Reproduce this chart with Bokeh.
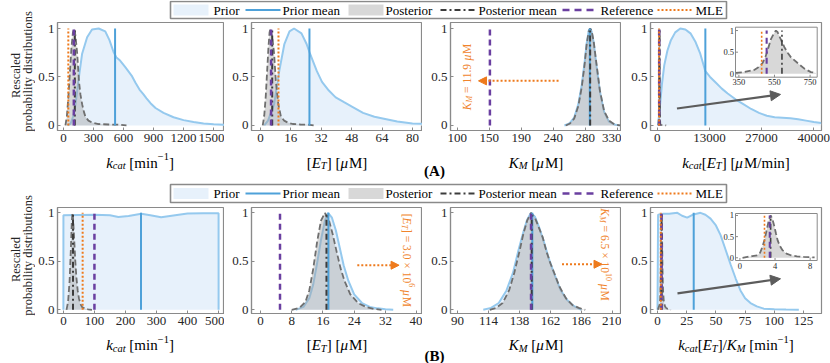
import math
from bokeh.plotting import figure
from bokeh.layouts import column, row
from bokeh.models import Range1d, FixedTicker, Label, Arrow, NormalHead
from bokeh.core.properties import value
from bokeh.embed import file_html
from bokeh.resources import INLINE

FONT = "Liberation Serif"

# ---------------- data ----------------
LEGEND_LABELS = ["Prior", "Prior mean", "Posterior", "Posterior mean", "Reference", "MLE"]
Y_LABEL_LINES = ["Rescaled", "probability distributions"]
Y_TICKS = [0, 0.5, 1]
Y_TICK_LABELS = ["0", "0.5", "1"]
INSET_Y_TICKS = [0, 0.5, 1]

# Row A, panel 1: k_cat
A1_TICKS = [0, 300, 600, 900, 1200, 1500]
A1_PRIOR_X = [40, 72, 100, 121, 155, 187, 237, 286, 352, 418, 460, 500, 530, 566, 620, 681,
              720, 760, 800, 830, 870, 920, 1000, 1100, 1200, 1300, 1400, 1500, 1620]
A1_PRIOR_Y = [0.0, 0.02, 0.1, 0.22, 0.5, 0.74, 0.91, 0.99, 1.0, 0.97, 0.88, 0.76, 0.7, 0.67, 0.6, 0.515,
              0.44, 0.37, 0.32, 0.28, 0.23, 0.18, 0.13, 0.085, 0.055, 0.035, 0.02, 0.012, 0.008]
A1_POST_X = [20, 35, 50, 65, 80, 95, 108, 120, 138, 155, 170, 187, 205, 220, 250, 286, 350, 450, 550, 630]
A1_POST_Y = [0.0, 0.1, 0.3, 0.55, 0.8, 0.96, 1.0, 0.93, 0.74, 0.46, 0.32, 0.22, 0.14, 0.09, 0.05,
             0.03, 0.015, 0.01, 0.008, 0.0]
A1_PRIOR_MEAN, A1_POST_MEAN, A1_REF, A1_MLE = 516, 114, 104, 49

# Row A, panel 2: [E_T]
A2_TICKS = [0, 16, 32, 48, 64, 80]
A2_PRIOR_X = [2, 4, 7.2, 9.9, 12.6, 15.3, 17.7, 21.6, 24.3, 26.1, 29.7, 32.4, 36, 39.6, 44, 48.6,
              54, 60, 65, 72, 80, 87]
A2_PRIOR_Y = [0.0, 0.05, 0.22, 0.56, 0.84, 0.97, 1.0, 0.95, 0.84, 0.74, 0.56, 0.45, 0.36, 0.29, 0.24,
              0.19, 0.13, 0.09, 0.07, 0.04, 0.02, 0.015]
A2_POST_X = [1.2, 2.0, 2.8, 3.5, 4.2, 4.8, 5.3, 6.0, 6.6, 7.2, 8.1, 9.4, 10.8, 12.5, 14.4, 17, 21, 25, 28]
A2_POST_Y = [0.0, 0.1, 0.3, 0.55, 0.8, 0.96, 1.0, 0.93, 0.85, 0.74, 0.46, 0.22, 0.09, 0.05, 0.03,
             0.015, 0.01, 0.008, 0.0]
A2_PRIOR_MEAN, A2_POST_MEAN, A2_REF, A2_MLE = 25.8, 6.2, 5.6, 9.5

# Row A, panel 3: K_M
A3_TICKS = [100, 146, 192, 238, 284, 330]
A3_TICK_LABELS = ["100", "150", "190", "240", "280", "330"]
A3_PRIOR_X = [254, 261, 268, 274, 279, 283, 286, 289, 291, 293, 296, 300, 305, 311, 318, 326, 333]
A3_PRIOR_Y = [0.0, 0.02, 0.08, 0.22, 0.42, 0.65, 0.85, 0.98, 1.0, 0.97, 0.86, 0.62, 0.35, 0.14, 0.04, 0.01, 0.0]
A3_POST_X = [256, 262, 268, 274, 279, 283, 286, 289, 291, 293, 296, 300, 305, 311, 318, 326, 334]
A3_POST_Y = [0.0, 0.02, 0.07, 0.2, 0.4, 0.63, 0.84, 0.97, 1.0, 0.98, 0.87, 0.64, 0.36, 0.15, 0.05, 0.01, 0.0]
A3_PRIOR_MEAN, A3_POST_MEAN, A3_REF = 290.5, 291, 147
A3_ARROW = [245.6, 0.46, 130.6, 0.46]
A3_NOTE_POS = [109, 0.5]

# Row A, panel 4: k_cat [E_T]
A4_TICKS = [0, 13333.33, 26666.67, 40000]
A4_TICK_LABELS = ["0", "13000", "27000", "40000"]
A4_PRIOR_X = [200, 600, 1200, 1800, 2600, 3500, 4600, 5900, 7200, 8500, 9800, 11000, 12300, 13500,
              15000, 16500, 18000, 20000, 22000, 24000, 26000, 28000, 30000, 32000, 34000, 36000,
              38000, 40000, 41900]
A4_PRIOR_Y = [0.0, 0.15, 0.42, 0.62, 0.77, 0.88, 0.96, 1.0, 0.99, 0.95, 0.86, 0.74, 0.56, 0.5,
              0.44, 0.38, 0.33, 0.27, 0.22, 0.17, 0.13, 0.1, 0.085, 0.08, 0.075, 0.065,
              0.05, 0.035, 0.025]
A4_POST_X = [280, 333, 380, 436, 460, 483, 500, 511, 530, 545, 558, 568, 585, 605, 625, 643, 680,
             718, 755, 783, 850, 1000, 1400, 1900, 2300]
A4_POST_Y = [0.0, 0.02, 0.04, 0.09, 0.15, 0.25, 0.4, 0.54, 0.8, 0.92, 1.0, 0.96, 0.8, 0.62, 0.48,
             0.38, 0.25, 0.12, 0.04, 0.02, 0.01, 0.005, 0.003, 0.002, 0.0]
A4_PRIOR_MEAN, A4_POST_MEAN, A4_REF, A4_MLE = 12300, 592, 506, 478
A4_ARROW = [5050, 0.175, 31500, 0.32]
A4_INSET_TICKS = [350, 550, 750]
A4_INSET_RANGE = [331, 790, -0.078, 1.077]

# Row B, panel 1: k_cat
B1_TICKS = [0, 100, 200, 300, 400, 500]
B1_PRIOR_X = [0, 0.1, 50, 100, 150, 177, 210, 251, 280, 315, 360, 400, 450, 499.9, 500]
B1_PRIOR_Y = [0.0, 0.975, 0.978, 0.98, 0.975, 0.958, 0.968, 0.99, 0.975, 0.955, 0.975, 0.992,
              0.995, 0.995, 0.0]
B1_POST_X = [10, 15, 20, 24, 27, 29, 31, 34, 38, 42, 46, 50, 55, 60, 70, 80, 92]
B1_POST_Y = [0.0, 0.08, 0.3, 0.62, 0.9, 1.0, 0.95, 0.78, 0.52, 0.33, 0.2, 0.12, 0.06, 0.03, 0.01, 0.005, 0.0]
B1_PRIOR_MEAN, B1_POST_MEAN, B1_REF, B1_MLE = 250, 31, 100, 62

# Row B, panel 2: [E_T]
B2_TICKS = [0, 8, 16, 24, 32, 40]
B2_PRIOR_X = [9, 11, 12.5, 13.5, 14.5, 15.5, 16.5, 17.3, 18.3, 19.3, 20.3, 21.3, 22.5, 24, 26, 28,
              30, 32, 34]
B2_PRIOR_Y = [0.0, 0.03, 0.12, 0.26, 0.48, 0.72, 0.92, 1.0, 0.95, 0.82, 0.64, 0.46, 0.3, 0.16, 0.07,
              0.03, 0.015, 0.005, 0.0]
B2_POST_X = [8, 10, 11.5, 12.5, 13.5, 14.5, 15.5, 16.5, 17.5, 18.5, 19.5, 20.5, 21.5, 23, 25, 27, 29, 31]
B2_POST_Y = [0.0, 0.02, 0.08, 0.2, 0.42, 0.7, 0.92, 1.0, 0.93, 0.78, 0.6, 0.43, 0.3, 0.16, 0.07,
             0.03, 0.01, 0.0]
B2_PRIOR_MEAN, B2_POST_MEAN, B2_REF = 17.4, 16.9, 5.0
B2_ARROW = [24.8, 0.46, 35.5, 0.46]
B2_NOTE_POS = [38.6, 0.51]

# Row B, panel 3: K_M
B3_TICKS = [90, 114, 138, 162, 186, 210]
B3_PRIOR_X = [110, 116, 122, 128, 133, 137, 141, 144, 147, 150, 153, 157, 161, 165, 170, 175, 180, 186]
B3_PRIOR_Y = [0.0, 0.02, 0.07, 0.2, 0.38, 0.6, 0.8, 0.93, 1.0, 0.96, 0.86, 0.7, 0.52, 0.37, 0.2,
              0.1, 0.04, 0.0]
B3_POST_X = [115, 120, 125, 130, 134, 138, 141, 144, 147, 150, 153, 156, 159, 162, 165, 169, 174,
             179, 184, 189]
B3_POST_Y = [0.0, 0.02, 0.07, 0.2, 0.38, 0.6, 0.78, 0.92, 1.0, 0.95, 0.85, 0.75, 0.6, 0.48, 0.38,
             0.24, 0.12, 0.05, 0.02, 0.0]
B3_PRIOR_MEAN, B3_POST_MEAN, B3_REF = 148, 147.5, 147
B3_ARROW = [171, 0.47, 202, 0.47]
B3_NOTE_POS = [207.3, 0.57]

# Row B, panel 4: k_cat [E_T] / K_M
B4_TICKS = [0, 25, 50, 75, 100, 125]
B4_PRIOR_X = [0, 0.5, 5, 10, 17, 21, 25.4, 30, 36.8, 41, 45.4, 50, 54, 58, 62.5, 67, 71, 75, 79.6,
              85, 91, 100, 110, 121]
B4_PRIOR_Y = [0.0, 0.98, 0.99, 0.99, 1.0, 0.97, 0.95, 0.98, 1.0, 0.98, 0.94, 0.87, 0.77, 0.63,
              0.47, 0.32, 0.2, 0.12, 0.07, 0.035, 0.012, 0.005, 0.002, 0.0]
B4_POST_X = [0.3, 0.85, 1.4, 2.0, 2.3, 2.55, 2.8, 2.95, 3.15, 3.3, 3.5, 3.7, 3.9, 4.1, 4.3, 4.55,
             4.85, 5.3, 5.8, 6.5, 7.3, 8.5, 10, 11.5]
B4_POST_Y = [0.0, 0.02, 0.04, 0.06, 0.12, 0.25, 0.42, 0.56, 0.75, 0.9, 1.0, 0.92, 0.76, 0.58, 0.41,
             0.28, 0.18, 0.1, 0.06, 0.035, 0.02, 0.01, 0.005, 0.0]
B4_PRIOR_MEAN, B4_POST_MEAN, B4_REF, B4_MLE = 31, 3.5, 3.4, 2.8
B4_ARROW = [17.1, 0.17, 105.3, 0.32]
B4_INSET_TICKS = [0, 4, 8]
B4_INSET_RANGE = [-0.5, 8.8, -0.064, 1.047]

# ---------------- style ----------------
PRIOR_FILL = "#e7f1fb"
PRIOR_LINE = "#95c9ee"
PRIOR_MEAN_C = "#4ea1d9"
POST_FILL = "#a3a3a3"
POST_ALPHA = 0.42
POST_LINE = "#6f6f6f"
POST_MEAN_C = "#3c3c3c"
REF_C = "#6a3fa0"
MLE_C = "#ee7a1c"
NOTE_C = "#f0842c"
AXIS_C = "#8a8a8a"
TICK_TXT = "#262626"

REG_W = {' ': 250, '(': 333, ')': 333, '[': 333, ']': 333, '/': 278, '=': 564, '\u00d7': 564,
         '.': 250, '\u2212': 564, '\u03bc': 576, 'a': 444, 'b': 500, 'c': 444, 'd': 500, 'e': 444,
         'i': 278, 'l': 278, 'm': 778, 'n': 500, 'o': 500, 'p': 500, 'r': 333, 's': 389, 't': 278,
         'u': 500, 'y': 500, 'A': 722, 'B': 667, 'E': 611, 'K': 722, 'M': 889, 'T': 611}
ITA_W = {'k': 444, 'c': 444, 'a': 500, 't': 278, 'E': 611, 'T': 556, 'K': 667, 'M': 833, '\u03bc': 576}


def text_width(s, size, italic):
    tbl = ITA_W if italic else REG_W
    return sum(tbl.get(ch, REG_W.get(ch, 500)) for ch in s) * size / 1000.0


def split_lead(t, size, italic):
    """SVG drops leading blanks: return stripped text and the blank advance to skip."""
    s = t.lstrip(' ')
    return s, text_width(' ' * (len(t) - len(s)), size, italic)


def rich_label(p, x, y, segs, angle=0.0, dx=0.0, color="black"):
    """Rotated multi-style annotation (inside a plot frame)."""
    widths = [text_width(t, s, it) for (t, s, it, sh) in segs]
    pos = -sum(widths) / 2.0
    ca, sa = math.cos(angle), math.sin(angle)
    for (t, s, it, sh), w in zip(segs, widths):
        txt, lead = split_lead(t, s, it)
        q = pos + lead
        p.add_layout(Label(x=x, y=y, x_offset=dx + q * ca - sh * sa, y_offset=q * sa + sh * ca,
                           angle=angle, text=txt, text_font=FONT, text_font_size=f"{s}px",
                           text_font_style="italic" if it else "normal", text_color=color,
                           text_align="left", text_baseline="alphabetic"))
        pos += w


def rich_text(p, xc, y, segs):
    """Multi-style horizontal text drawn with text glyphs in a pixel-unit strip."""
    widths = [text_width(t, s, it) for (t, s, it, sh) in segs]
    pos = xc - sum(widths) / 2.0
    for (t, s, it, sh), w in zip(segs, widths):
        txt, lead = split_lead(t, s, it)
        p.text(x=[pos + lead], y=[y + sh], text=[txt], text_font=value(FONT),
               text_font_size=value(f"{s}px"), text_font_style=value("italic" if it else "normal"),
               text_color="black", text_align="left", text_baseline="alphabetic")
        pos += w


BIG, SUB = 15, 10.5
def n(t): return (t, BIG, False, 0)
def i(t): return (t, BIG, True, 0)
def sub(t): return (t, SUB, True, -3.2)
def sup(t): return (t, SUB, False, 6)

LBL_KCAT = [i("k"), sub("cat"), n(" [min"), sup("\u22121"), n("]")]
LBL_ET = [n("["), i("E"), sub("T"), n("] ["), i("\u03bc"), n("M]")]
LBL_KM = [i("K"), sub("M"), n(" ["), i("\u03bc"), n("M]")]
LBL_KET = [i("k"), sub("cat"), n("["), i("E"), sub("T"), n("] ["), i("\u03bc"), n("M/min]")]
LBL_KETKM = [i("k"), sub("cat"), n("["), i("E"), sub("T"), n("]/"), i("K"), sub("M"), n(" [min"),
             sup("\u22121"), n("]")]

NS, NSS = 11.5, 8
NOTE_A3 = [("K", NS, True, 0), ("M", NSS, True, -2.5), (" = 11.9 ", NS, False, 0),
           ("\u03bc", NS, True, 0), ("M", NS, False, 0)]
NOTE_B2 = [("[", NS, False, 0), ("E", NS, True, 0), ("T", NSS, True, -2.5),
           ("] = 3.0 \u00d7 10", NS, False, 0), ("6", NSS, False, 4.5), (" ", NS, False, 0),
           ("\u03bc", NS, True, 0), ("M", NS, False, 0)]
NOTE_B3 = [("K", NS, True, 0), ("M", NSS, True, -2.5), (" = 6.5 \u00d7 10", NS, False, 0),
           ("10", NSS, False, 4.5), (" ", NS, False, 0), ("\u03bc", NS, True, 0), ("M", NS, False, 0)]


def panel(width, height, L, R, T, B, xr, yr, xticks, xlabels=None):
    p = figure(width=width, height=height, x_range=Range1d(*xr), y_range=Range1d(*yr),
               output_backend="svg", toolbar_location=None, title=None,
               min_border_left=L, min_border_right=R, min_border_top=T, min_border_bottom=B)
    p.grid.visible = False
    p.background_fill_color = "white"
    p.border_fill_color = "white"
    p.outline_line_color = AXIS_C
    p.outline_line_width = 1.2
    p.xaxis.ticker = FixedTicker(ticks=xticks)
    if xlabels:
        p.xaxis.major_label_overrides = {t: l for t, l in zip(xticks, xlabels)}
    p.yaxis.ticker = FixedTicker(ticks=Y_TICKS)
    p.yaxis.major_label_overrides = {t: l for t, l in zip(Y_TICKS, Y_TICK_LABELS)}
    for ax in (p.xaxis[0], p.yaxis[0]):
        ax.axis_line_color = AXIS_C
        ax.axis_line_width = 1.2
        ax.major_tick_line_color = AXIS_C
        ax.major_tick_in = 3
        ax.major_tick_out = 0
        ax.minor_tick_line_color = None
        ax.major_label_text_font = FONT
        ax.major_label_text_font_size = "13px"
        ax.major_label_text_color = TICK_TXT
        ax.major_label_standoff = 3
    return p


def draw_dist(p, prior_x, prior_y, post_x, post_y, **kw):
    if prior_x is not None:
        p.varea(x=prior_x, y1=0, y2=prior_y, fill_color=PRIOR_FILL, **kw)
        p.line(prior_x, prior_y, line_color=PRIOR_LINE, line_width=2, **kw)
    p.varea(x=post_x, y1=0, y2=post_y, fill_color=POST_FILL, fill_alpha=POST_ALPHA, **kw)
    p.line(post_x, post_y, line_color=POST_LINE, line_width=1.8, line_dash="6 3", **kw)


def vline(p, xv, color, dash, width, **kw):
    p.segment(x0=[xv], y0=[0], x1=[xv], y1=[1], line_color=color, line_width=width, line_dash=dash, **kw)


def vlines(p, prior_mean=None, post_mean=None, ref=None, mle=None, w=2.0, **kw):
    if prior_mean is not None:
        vline(p, prior_mean, PRIOR_MEAN_C, "solid", w, **kw)
    if post_mean is not None:
        vline(p, post_mean, POST_MEAN_C, "6 3 2 3", w, **kw)
    if ref is not None:
        vline(p, ref, REF_C, "6 4", w + 0.5, **kw)
    if mle is not None:
        vline(p, mle, MLE_C, "2 2", w, **kw)


def arrow(p, a, color, dash, width, size):
    p.add_layout(Arrow(x_start=a[0], y_start=a[1], x_end=a[2], y_end=a[3], line_color=color,
                       line_width=width, line_dash=dash,
                       end=NormalHead(size=size, fill_color=color, line_color=color, line_width=1)))


def add_inset(p, fw, fh, box, rng, xticks, post_x, post_y, post_mean, ref, mle):
    """Inset drawn inside frame of p: box = (left, right, top, bottom) in frame pixels."""
    l, r, t, b = box
    x0, x1, y0, y1 = rng
    sx = (r - l) / (x1 - x0)
    sy = (b - t) / (y1 - y0)
    ex0 = x0 - l / sx
    ey1 = y1 + t / sy
    p.extra_x_ranges["ix"] = Range1d(ex0, ex0 + fw / sx)
    p.extra_y_ranges["iy"] = Range1d(ey1 - fh / sy, ey1)
    kw = dict(x_range_name="ix", y_range_name="iy")
    p.quad(left=[x0], right=[x1], bottom=[y0], top=[y1], fill_color="white",
           line_color=AXIS_C, line_width=1, **kw)
    keep = [(xx, yy) for xx, yy in zip(post_x, post_y) if x0 <= xx <= x1]
    draw_dist(p, None, None, [k[0] for k in keep], [k[1] for k in keep], **kw)
    vlines(p, None, post_mean, ref, mle, w=1.6, **kw)
    p.segment(x0=xticks, x1=xticks, y0=[y0] * len(xticks), y1=[y0 + 2.5 / sy] * len(xticks),
              line_color=AXIS_C, line_width=1, **kw)
    p.segment(x0=[x0] * 3, x1=[x0 + 2.5 / sx] * 3, y0=INSET_Y_TICKS, y1=INSET_Y_TICKS,
              line_color=AXIS_C, line_width=1, **kw)
    p.text(x=xticks, y=[y0] * len(xticks), text=[str(v) for v in xticks], y_offset=2,
           text_font=value(FONT), text_font_size=value("8.5px"), text_color=TICK_TXT,
           text_align="center", text_baseline="top", **kw)
    p.text(x=[x0] * 3, y=INSET_Y_TICKS, text=Y_TICK_LABELS, x_offset=-1.5,
           text_font=value(FONT), text_font_size=value("8.5px"), text_color=TICK_TXT,
           text_align="right", text_baseline="middle", **kw)


def strip(w, h):
    p = figure(width=w, height=h, x_range=Range1d(0, w), y_range=Range1d(0, h),
               x_axis_type=None, y_axis_type=None, output_backend="svg",
               toolbar_location=None, title=None, min_border=0)
    p.grid.visible = False
    p.outline_line_color = None
    p.background_fill_color = "white"
    p.border_fill_color = "white"
    return p


YW = 35                                   # width of the y-title column
LEG_KEY_X = [173, 245, 348, 440, 562, 657]
LEG_TEXT_X = [213, 282, 385, 478, 600, 695]


def draw_legend(p, bottom, height):
    o = -YW
    p.quad(left=[170 + o], right=[726 + o], bottom=[bottom], top=[bottom + height], fill_color="white",
           line_color=AXIS_C, line_width=1.6)
    ym = bottom + height / 2.0
    kx = [k + o for k in LEG_KEY_X]
    p.quad(left=[kx[0]], right=[kx[0] + 35], bottom=[ym - 5.5], top=[ym + 5.5],
           fill_color=PRIOR_FILL, line_color=None)
    p.segment(x0=[kx[1]], x1=[kx[1] + 35], y0=[ym], y1=[ym], line_color=PRIOR_MEAN_C, line_width=2)
    p.quad(left=[kx[2]], right=[kx[2] + 35], bottom=[ym - 5.5], top=[ym + 5.5],
           fill_color=POST_FILL, fill_alpha=POST_ALPHA, line_color=None)
    p.segment(x0=[kx[3]], x1=[kx[3] + 35], y0=[ym], y1=[ym], line_color=POST_MEAN_C, line_width=2,
              line_dash="6 3 2 3")
    p.segment(x0=[kx[4]], x1=[kx[4] + 36], y0=[ym], y1=[ym], line_color=REF_C, line_width=2.5,
              line_dash="7 5")
    p.segment(x0=[kx[5]], x1=[kx[5] + 35], y0=[ym], y1=[ym], line_color=MLE_C, line_width=2,
              line_dash="2 2")
    p.text(x=[t + o for t in LEG_TEXT_X], y=[ym] * 6, text=LEGEND_LABELS, text_font=value(FONT),
           text_font_size=value("13px"), text_color="black", text_align="left",
           text_baseline="middle")


def ylabel_strip(h, yc_resc, yc_prob):
    p = strip(YW, h)
    p.text(x=[15.5, 27.5], y=[yc_resc, yc_prob], text=Y_LABEL_LINES, angle=math.pi / 2,
           text_font=value(FONT), text_font_size=value("12.5px"), text_color=TICK_TXT,
           text_align="center", text_baseline="alphabetic")
    return p


# ---------------- layout (pixel geometry) ----------------
FW = 171
HA, HB = 128, 126
FHA, FHB = 108, 106
YA = (-0.052, 1.062)
YB = (-0.038, 1.055)

# ---------- Row A ----------
pA1 = panel(189, HA, 20, 0, 2, HA - 2 - FHA, (-59, 1609), YA, A1_TICKS)
draw_dist(pA1, A1_PRIOR_X, A1_PRIOR_Y, A1_POST_X, A1_POST_Y)
vlines(pA1, A1_PRIOR_MEAN, A1_POST_MEAN, A1_REF, A1_MLE)

pA2 = panel(198, HA, 27, 0, 2, HA - 2 - FHA, (-4.7, 85.3), YA, A2_TICKS)
draw_dist(pA2, A2_PRIOR_X, A2_PRIOR_Y, A2_POST_X, A2_POST_Y)
vlines(pA2, A2_PRIOR_MEAN, A2_POST_MEAN, A2_REF, A2_MLE)

pA3 = panel(199, HA, 28, 0, 2, HA - 2 - FHA, (90.4, 336), YA, A3_TICKS, A3_TICK_LABELS)
draw_dist(pA3, A3_PRIOR_X, A3_PRIOR_Y, A3_POST_X, A3_POST_Y)
vlines(pA3, A3_PRIOR_MEAN, A3_POST_MEAN, A3_REF, None)
arrow(pA3, A3_ARROW, MLE_C, "2 2", 2, 8)
rich_label(pA3, A3_NOTE_POS[0], A3_NOTE_POS[1], NOTE_A3, angle=math.pi / 2, dx=4, color=NOTE_C)

pA4 = panel(209, HA, 29, 9, 2, HA - 2 - FHA, (-1711, 41967), YA, A4_TICKS, A4_TICK_LABELS)
draw_dist(pA4, A4_PRIOR_X, A4_PRIOR_Y, A4_POST_X, A4_POST_Y)
vlines(pA4, A4_PRIOR_MEAN, A4_POST_MEAN, A4_REF, A4_MLE)
add_inset(pA4, FW, FHA, (85, 166.7, 4.7, 54.7), A4_INSET_RANGE, A4_INSET_TICKS,
          A4_POST_X, A4_POST_Y, A4_POST_MEAN, A4_REF, A4_MLE)
arrow(pA4, A4_ARROW, "#5c5c5c", "solid", 2.2, 10)

# ---------- Row B ----------
pB1 = panel(189, HB, 20, 0, 2, HB - 2 - FHB, (-19, 519), YB, B1_TICKS)
draw_dist(pB1, B1_PRIOR_X, B1_PRIOR_Y, B1_POST_X, B1_POST_Y)
vlines(pB1, B1_PRIOR_MEAN, B1_POST_MEAN, B1_REF, B1_MLE)

pB2 = panel(198, HB, 27, 0, 2, HB - 2 - FHB, (-2.3, 41.5), YB, B2_TICKS)
draw_dist(pB2, B2_PRIOR_X, B2_PRIOR_Y, B2_POST_X, B2_POST_Y)
vlines(pB2, B2_PRIOR_MEAN, B2_POST_MEAN, B2_REF, None)
arrow(pB2, B2_ARROW, MLE_C, "2 2", 2, 8)
rich_label(pB2, B2_NOTE_POS[0], B2_NOTE_POS[1], NOTE_B2, angle=-math.pi / 2, dx=-4, color=NOTE_C)

pB3 = panel(199, HB, 28, 0, 2, HB - 2 - FHB, (84.6, 217.1), YB, B3_TICKS)
draw_dist(pB3, B3_PRIOR_X, B3_PRIOR_Y, B3_POST_X, B3_POST_Y)
vlines(pB3, B3_PRIOR_MEAN, B3_POST_MEAN, B3_REF, None)
arrow(pB3, B3_ARROW, MLE_C, "2 2", 2, 8)
rich_label(pB3, B3_NOTE_POS[0], B3_NOTE_POS[1], NOTE_B3, angle=-math.pi / 2, dx=-4, color=NOTE_C)

pB4 = panel(209, HB, 29, 9, 2, HB - 2 - FHB, (-6, 140.4), YB, B4_TICKS)
draw_dist(pB4, B4_PRIOR_X, B4_PRIOR_Y, B4_POST_X, B4_POST_Y)
vlines(pB4, B4_PRIOR_MEAN, B4_POST_MEAN, B4_REF, B4_MLE)
add_inset(pB4, FW, FHB, (85, 166.7, 6, 53), B4_INSET_RANGE, B4_INSET_TICKS,
          B4_POST_X, B4_POST_Y, B4_POST_MEAN, B4_REF, B4_MLE)
arrow(pB4, B4_ARROW, "#5c5c5c", "solid", 2.2, 10)

# ---------- strips: legends, axis titles, panel tags ----------
X_CENTERS = [139.5 - YW, 336.5 - YW, 535.5 - YW, 735.5 - YW]

LA = strip(830 - YW, 20)
draw_legend(LA, 2, 17)

SA = strip(830 - YW, 57)
for xc, lab in zip(X_CENTERS, [LBL_KCAT, LBL_ET, LBL_KM, LBL_KET]):
    rich_text(SA, xc, 43, lab)
SA.text(x=[434 - YW], y=[34.5], text=["(A)"], text_font=value(FONT), text_font_size=value("15px"),
        text_font_style="bold", text_align="center", text_baseline="alphabetic", text_color="black")
draw_legend(SA, 3, 18)

SB = strip(830, 32)
for xc, lab in zip(X_CENTERS, [LBL_KCAT, LBL_ET, LBL_KM, LBL_KETKM]):
    rich_text(SB, xc + YW, 18.5, lab)
SB.text(x=[434], y=[7.5], text=["(B)"], text_font=value(FONT), text_font_size=value("15px"),
        text_font_style="bold", text_align="center", text_baseline="alphabetic", text_color="black")

YLA = ylabel_strip(20 + HA, 73, 77)
YLB = ylabel_strip(57 + HB, 72, 76)

top_block = row(YLA, column(LA, row(pA1, pA2, pA3, pA4)))
mid_block = row(YLB, column(SA, row(pB1, pB2, pB3, pB4)))
layout = column(top_block, mid_block, SB)

open("out.html", "w").write(file_html(layout, INLINE))
